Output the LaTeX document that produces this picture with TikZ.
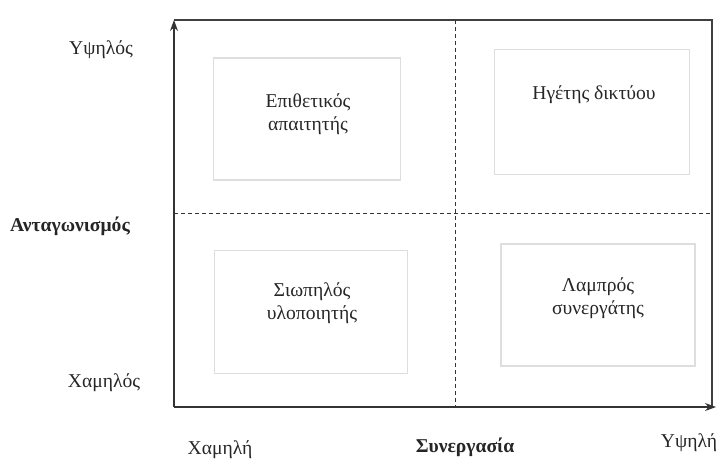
\documentclass[tikz,border=0pt]{standalone}
\usepackage{fontspec}
\setmainfont{Liberation Serif}
\usetikzlibrary{arrows.meta}
\begin{document}
\begin{tikzpicture}[x=1pt,y=-1pt,
  txt/.style={font=\fontsize{19.6}{22.5}\selectfont, align=center, text=black!85, inner sep=0pt},
  axislabel/.style={txt, font=\fontsize{19.6}{22.5}\selectfont\bfseries},
  quadbox/.style={draw=black!13, line width=1.3pt, inner sep=0pt},
  axis/.style={line width=1.1pt, draw=black!80, -{Stealth[length=11pt,width=8pt]}},
  frame/.style={line width=1.1pt, draw=black!75},
  divider/.style={line width=0.9pt, draw=black!80, dash pattern=on 4pt off 3pt}]
\useasboundingbox (0,0) rectangle (716,459);

% axes and frame
\coordinate (O) at (174,407);
\coordinate (T) at (174,20);
\coordinate (R) at (716,407);
\coordinate (TR) at (712,20);
\coordinate (BR) at (712,407);
\draw[frame] (T) -- (TR) -- (BR);
\draw[axis] (O) -- (T);
\draw[axis] (O) -- (R);

% quadrant dividers
\coordinate (VT) at (455,20);
\coordinate (VB) at (455,407);
\coordinate (HL) at (174,213);
\coordinate (HR) at (712,213);
\draw[divider] (VT) -- (VB);
\draw[divider] (HL) -- (HR);

% quadrant boxes
\node[quadbox, minimum width=187pt, minimum height=122pt] (b1) at (307,119) {};
\node[quadbox, minimum width=195pt, minimum height=125pt] (b2) at (592,112) {};
\node[quadbox, minimum width=193pt, minimum height=123pt] (b3) at (311,312) {};
\node[quadbox, minimum width=194pt, minimum height=122pt] (b4) at (598,305) {};

% quadrant texts
\node[txt] (t1) at (308,114) {Επιθετικός\\απαιτητής};
\node[txt] (t2) at (594,95) {Ηγέτης δικτύου};
\node[txt] (t3) at (312,303) {Σιωπηλός\\υλοποιητής};
\node[txt] (t4) at (598,298) {Λαμπρός\\συνεργάτης};

% axis labels
\node[txt] (yhigh) at (101,50) {Υψηλός};
\node[axislabel] (yname) at (70,226) {Ανταγωνισμός};
\node[txt] (ylow) at (104,383) {Χαμηλός};
\node[txt] (xlow) at (220,450) {Χαμηλή};
\node[axislabel] (xname) at (465,447) {Συνεργασία};
\node[txt] (xhigh) at (689,443) {Υψηλή};
\end{tikzpicture}
\end{document}
